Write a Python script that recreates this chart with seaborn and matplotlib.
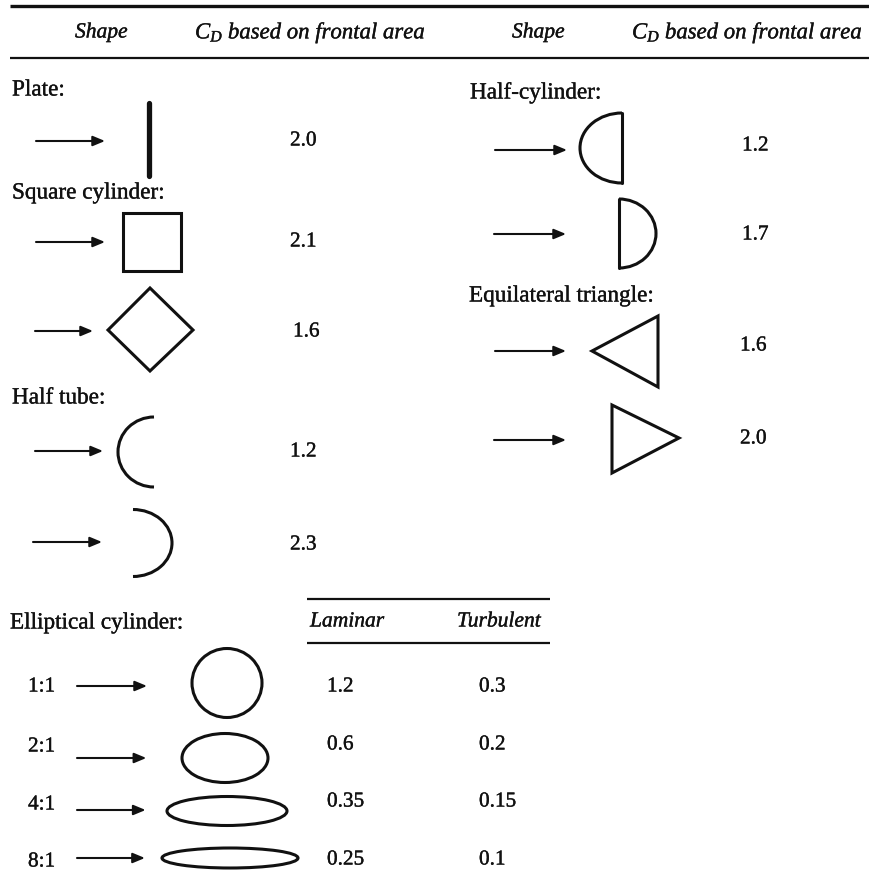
import matplotlib
matplotlib.use("Agg")
import matplotlib.pyplot as plt
import matplotlib.patheffects as pe
from matplotlib.patches import Rectangle, Polygon, Arc, Ellipse
import seaborn as sns

# ---------------- data ----------------
header_cols = ["Shape", "$C_D$ based on frontal area"]
left_groups = ["Plate:", "Square cylinder:", "Half tube:"]
left_cd = [2.0, 2.1, 1.6, 1.2, 2.3]
right_groups = ["Half-cylinder:", "Equilateral triangle:"]
right_cd = [1.2, 1.7, 1.6, 2.0]
ellipse_title = "Elliptical cylinder:"
flow_cols = ["Laminar", "Turbulent"]
ratios = ["1:1", "2:1", "4:1", "8:1"]
laminar = [1.2, 0.6, 0.35, 0.25]
turbulent = [0.3, 0.2, 0.15, 0.1]

# ---------------- layout ----------------
sns.set_theme(style="white")
plt.rcParams["font.family"] = ["Liberation Serif", "DejaVu Serif"]
plt.rcParams["mathtext.fontset"] = "custom"
plt.rcParams["mathtext.it"] = "Liberation Serif:italic"
plt.rcParams["mathtext.rm"] = "Liberation Serif"

INK = "#111111"
BODY = 16.7
NUM = 15.3
ITAL = 15.5
LW = 2.2
HEAVY = [pe.withStroke(linewidth=0.25, foreground=INK)]

fig = plt.figure(figsize=(8.69, 8.80), dpi=100)
ax = fig.add_axes([0, 0, 1, 1])
ax.set_xlim(0, 869)
ax.set_ylim(880, 0)
ax.axis("off")


def arrow(x0, x1, y):
    ax.annotate("", xy=(x1, y), xytext=(x0, y),
                arrowprops=dict(arrowstyle="-|>,head_length=0.6,head_width=0.25",
                                lw=1.5, color=INK, shrinkA=0, shrinkB=0))


def label(x, y, s, size=BODY, **kw):
    ax.text(x, y, s, fontsize=size, color=INK, va="center", ha="left",
            path_effects=HEAVY, **kw)


# header rules and titles
ax.plot([10, 869], [6, 6], color=INK, lw=2.4, solid_capstyle="butt")
ax.plot([10, 869], [58, 58], color=INK, lw=1.6, solid_capstyle="butt")
for x0, x1 in [(75, 195), (512, 632)]:
    label(x0, 33, header_cols[0], size=ITAL, style="italic")
    label(x1, 33, header_cols[1], size=16.4, style="italic")

# ---- left column ----
label(12, 90, left_groups[0])
arrow(36, 105, 141)
ax.plot([149, 149], [103, 176], color=INK, lw=3.8, solid_capstyle="round")
label(290, 141, str(left_cd[0]), size=NUM)

label(12, 193, left_groups[1])
arrow(36, 105, 242)
ax.add_patch(Rectangle((123, 213), 58, 58, fill=False, ec=INK, lw=LW))
label(290, 242, str(left_cd[1]), size=NUM)

arrow(35, 93, 331)
ax.add_patch(Polygon([(108, 330), (150, 288), (193, 330), (150, 371)],
                     closed=True, fill=False, ec=INK, lw=LW, joinstyle="miter"))
label(293, 332, str(left_cd[2]), size=NUM)

label(12, 398, left_groups[2])
arrow(35, 103, 451)
ax.add_patch(Arc((154, 452), 72, 70, theta1=90, theta2=270, ec=INK, lw=LW))
label(290, 452, str(left_cd[3]), size=NUM)

arrow(33, 102, 542)
ax.add_patch(Arc((133, 543), 78, 67, theta1=-90, theta2=90, ec=INK, lw=LW))
label(290, 545, str(left_cd[4]), size=NUM)

# ---- right column ----
label(470, 93, right_groups[0])
arrow(495, 567, 150)
ax.add_patch(Arc((622, 148), 84, 70, theta1=90, theta2=270, ec=INK, lw=LW))
ax.plot([622, 622], [113, 183], color=INK, lw=LW)
label(742, 146, str(right_cd[0]), size=NUM)

arrow(494, 566, 234)
ax.add_patch(Arc((619, 233.5), 74, 69, theta1=-90, theta2=90, ec=INK, lw=LW))
ax.plot([619, 619], [199, 268], color=INK, lw=LW)
label(742, 235, str(right_cd[1]), size=NUM)

label(469, 296, right_groups[1])
arrow(495, 566, 351)
ax.add_patch(Polygon([(592, 351), (658, 316), (658, 387)], closed=True,
                     fill=False, ec=INK, lw=LW))
label(740, 346, str(right_cd[2]), size=NUM)

arrow(494, 566, 440)
ax.add_patch(Polygon([(612, 405), (679, 438), (612, 473)], closed=True,
                     fill=False, ec=INK, lw=LW))
label(740, 439, str(right_cd[3]), size=NUM)

# ---- elliptical cylinders ----
label(10, 623, ellipse_title)
ax.plot([307, 550], [599, 599], color=INK, lw=1.6, solid_capstyle="butt")
ax.plot([307, 550], [643, 643], color=INK, lw=1.6, solid_capstyle="butt")
label(310, 622, flow_cols[0], size=ITAL, style="italic")
label(457, 622, flow_cols[1], size=ITAL, style="italic")

row_label_y = [687, 747, 805, 862]
row_arrow_y = [686, 758, 810, 858]
row_value_y = [687, 745, 802, 860]
ell_center = [(227, 683), (225, 758), (227, 811), (230, 858)]
ell_size = [(70, 69), (86, 49), (120, 29), (136, 20)]
for i, r in enumerate(ratios):
    label(28, row_label_y[i], r, size=NUM)
    arrow(77, 147 - i * 0.7, row_arrow_y[i])
    (cx, cy), (w, h) = ell_center[i], ell_size[i]
    ax.add_patch(Ellipse((cx, cy), w, h, fill=False, ec=INK, lw=LW))
    label(327, row_value_y[i], str(laminar[i]), size=NUM)
    label(479, row_value_y[i], str(turbulent[i]), size=NUM)

fig.savefig("out.png", dpi=100, facecolor="white")
